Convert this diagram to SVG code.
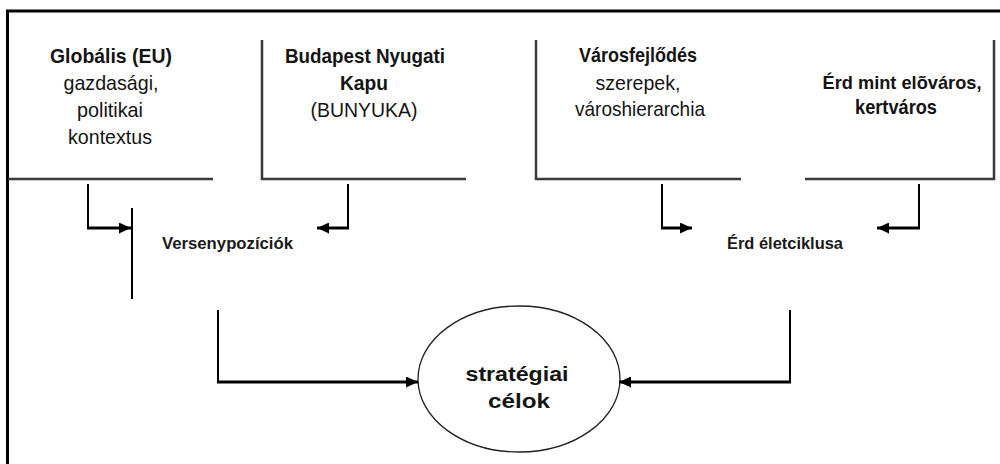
<svg xmlns="http://www.w3.org/2000/svg" width="1000" height="464" viewBox="0 0 1000 464">
  <style>
    .frame { stroke: #000; stroke-width: 3; fill: none; }
    .box { stroke: #3a3a3a; stroke-width: 2.5; fill: none; }
    .t { font-family: "Liberation Sans", Arial, sans-serif; font-size: 21px; fill: #141414; text-anchor: middle; }
    .b { font-weight: bold; }
    .lbl { font-family: "Liberation Sans", Arial, sans-serif; font-size: 16px; font-weight: bold; fill: #1a1a1a; }
    .v { stroke: #000; stroke-width: 2; fill: none; }
    .h { stroke: #000; stroke-width: 3; fill: none; }
    .ell { stroke: #222; stroke-width: 1.3; fill: #fff; }
  </style>
  <defs>
    <marker id="arr" markerUnits="userSpaceOnUse" markerWidth="13" markerHeight="11" refX="12" refY="5.5" orient="auto">
      <path d="M0,0 L12,5.5 L0,11 z" fill="#000"/>
    </marker>
  </defs>
  <rect width="1000" height="464" fill="#fff"/>
  <g id="frame">
    <path class="frame" d="M7.5,464 V11 H1000"/>
  </g>
  <g id="node-globalis">
    <path class="box" d="M8,179 H213"/>
    <text class="t b" x="111" y="63" textLength="122" lengthAdjust="spacingAndGlyphs">Globális (EU)</text>
    <text class="t" x="111" y="90" textLength="95" lengthAdjust="spacingAndGlyphs">gazdasági,</text>
    <text class="t" x="110" y="117" textLength="66" lengthAdjust="spacingAndGlyphs">politikai</text>
    <text class="t" x="110" y="144" textLength="84" lengthAdjust="spacingAndGlyphs">kontextus</text>
  </g>
  <g id="node-bunyuka">
    <path class="box" d="M262,40 V179 H466"/>
    <text class="t b" x="365" y="63" textLength="160" lengthAdjust="spacingAndGlyphs">Budapest Nyugati</text>
    <text class="t b" x="364" y="90" textLength="48" lengthAdjust="spacingAndGlyphs">Kapu</text>
    <text class="t" x="364" y="117" textLength="107" lengthAdjust="spacingAndGlyphs">(BUNYUKA)</text>
  </g>
  <g id="node-varosfejlodes">
    <path class="box" d="M536,40 V179 H741"/>
    <text class="t b" x="638" y="62" textLength="118" lengthAdjust="spacingAndGlyphs">Városfejlődés</text>
    <text class="t" x="638" y="90" textLength="85" lengthAdjust="spacingAndGlyphs">szerepek,</text>
    <text class="t" x="640" y="116" textLength="130" lengthAdjust="spacingAndGlyphs">városhierarchia</text>
  </g>
  <g id="node-erd-eloaros">
    <path class="box" d="M805,179 H994 V40"/>
    <text class="t b" x="902" y="89" style="font-size:19px" textLength="159" lengthAdjust="spacingAndGlyphs">Érd mint elõváros,</text>
    <text class="t b" x="896" y="114" textLength="82" lengthAdjust="spacingAndGlyphs">kertváros</text>
  </g>
  <g id="node-versenypoziciok">
    <text class="lbl" x="162" y="249" textLength="131" lengthAdjust="spacingAndGlyphs">Versenypozíciók</text>
  </g>
  <g id="node-erd-eletciklusa">
    <text class="lbl" x="727" y="249" textLength="116" lengthAdjust="spacingAndGlyphs">Érd életciklusa</text>
  </g>
  <g id="node-strategiai-celok">
    <ellipse class="ell" cx="519" cy="379" rx="101" ry="73"/>
    <text class="t b" x="517" y="381" textLength="103" lengthAdjust="spacingAndGlyphs">stratégiai</text>
    <text class="t b" x="519" y="408" textLength="62" lengthAdjust="spacingAndGlyphs">célok</text>
  </g>
  <g id="connectors">
    <path class="v" d="M88,184 V229"/>
    <path class="h" d="M87,228 H131" marker-end="url(#arr)"/>
    <path class="v" d="M132,208 V299"/>
    <path class="v" d="M348,184 V229"/>
    <path class="h" d="M349,228 H317" marker-end="url(#arr)"/>
    <path class="v" d="M662,184 V229"/>
    <path class="h" d="M661,228 H692" marker-end="url(#arr)"/>
    <path class="v" d="M919,184 V229"/>
    <path class="h" d="M920,228 H877" marker-end="url(#arr)"/>
    <path class="v" d="M218,310 V383"/>
    <path class="h" d="M217,382 H418" marker-end="url(#arr)"/>
    <path class="v" d="M790,310 V383"/>
    <path class="h" d="M791,382 H619" marker-end="url(#arr)"/>
  </g>
</svg>
